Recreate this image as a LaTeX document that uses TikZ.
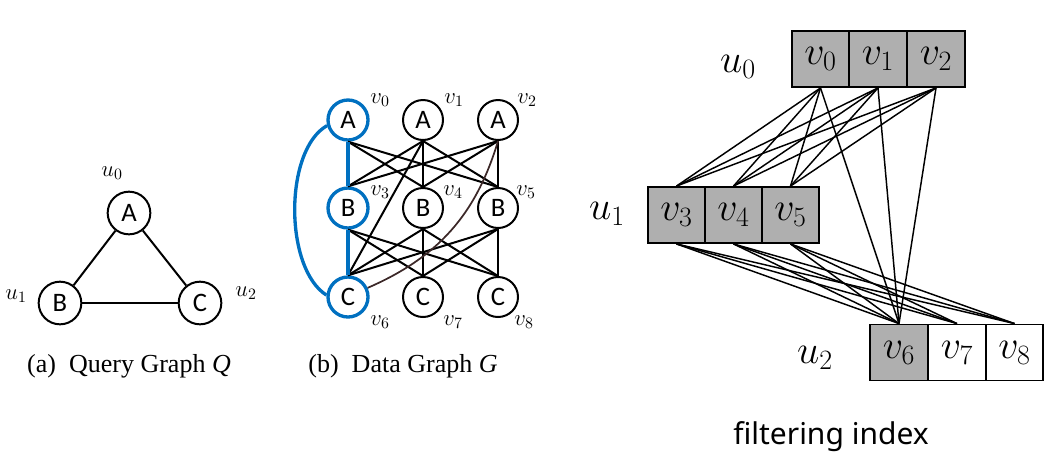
\RequirePackage{fix-cm}
\documentclass[tikz,border=0pt]{standalone}
\usepackage{fontspec}
\newfontfamily\nodefont{Carlito}
\newfontfamily\idxfont{Noto Sans}
\newfontfamily\capfont{Liberation Serif}
\definecolor{oblue}{RGB}{0,112,192}
\definecolor{cellgray}{RGB}{175,175,175}
\definecolor{darkcurve}{RGB}{60,40,40}
\begin{document}
\begin{tikzpicture}[x=0.75pt,y=-0.75pt,
  qnode/.style={circle,draw,line width=1.5pt,minimum size=32pt,inner sep=0pt,font=\nodefont\fontsize{20}{22}\selectfont},
  dnode/.style={circle,draw,line width=1.5pt,minimum size=30pt,inner sep=0pt,font=\nodefont\fontsize{20}{22}\selectfont},
  bnode/.style={dnode,draw=oblue,line width=2.5pt},
  qedge/.style={line width=1.5pt},
  dedge/.style={line width=1.5pt},
  bedge/.style={line width=2.5pt,draw=oblue},
  smalllab/.style={inner sep=0pt,font=\fontsize{17}{19}\selectfont},
  biglab/.style={inner sep=0pt,font=\fontsize{30}{32}\selectfont},
  cell/.style={draw,line width=1.4pt,minimum width=43pt,minimum height=42pt,inner sep=0pt,font=\fontsize{30}{32}\selectfont},
  gcell/.style={cell,fill=cellgray},
  wcell/.style={cell,fill=white},
  fedge/.style={line width=1.1pt},
  caption/.style={inner sep=0pt,font=\capfont\fontsize{19.5}{22}\selectfont}
]
\useasboundingbox (0,0) rectangle (1056,465);

% ---------- Query graph ----------
\node[qnode] (qa) at (129,213) {A};
\node[qnode] (qb) at (60,303) {B};
\node[qnode] (qc) at (200,303) {C};
\draw[qedge] (qa) -- (qb);
\draw[qedge] (qa) -- (qc);
\draw[qedge] (qb) -- (qc);
\node[smalllab] (lu0) at (112,173) {$u_0$};
\node[smalllab] (lu1) at (16,296) {$u_1$};
\node[smalllab] (lu2) at (246,293) {$u_2$};
\node[caption] (capa) at (129,366) {(a)\enspace Query Graph \textit{Q}};

% ---------- Data graph ----------
\node[bnode] (v0) at (348,120) {A};
\node[dnode] (v1) at (423,120) {A};
\node[dnode] (v2) at (498,120) {A};
\node[bnode] (v3) at (348,208) {B};
\node[dnode] (v4) at (423,208) {B};
\node[dnode] (v5) at (498,208) {B};
\node[bnode] (v6) at (348,297) {C};
\node[dnode] (v7) at (423,297) {C};
\node[dnode] (v8) at (498,297) {C};

\foreach \a/\b in {v0/v4,v0/v5,v1/v3,v1/v4,v1/v5,v2/v3,v2/v4,v2/v5,
                   v3/v7,v3/v8,v4/v6,v4/v7,v4/v8,v5/v6,v5/v7,v5/v8,v1/v6}
  \draw[dedge] (\a.south) -- (\b.north);
\draw[dedge,darkcurve,line width=1.3pt] (v2.south) to[bend left=25] (v6.25);
\draw[bedge] (v0.south) -- (v3.north);
\draw[bedge] (v3.south) -- (v6.north);
\draw[bedge] (v0.195) .. controls (284,150) and (284,268) .. (v6.175);

\node[smalllab] (lv0) at (380,100) {$v_0$};
\node[smalllab] (lv1) at (454,100) {$v_1$};
\node[smalllab] (lv2) at (527,100) {$v_2$};
\node[smalllab] (lv3) at (380,192) {$v_3$};
\node[smalllab] (lv4) at (453,192) {$v_4$};
\node[smalllab] (lv5) at (526,192) {$v_5$};
\node[smalllab] (lv6) at (380,322) {$v_6$};
\node[smalllab] (lv7) at (453,322) {$v_7$};
\node[smalllab] (lv8) at (524,322) {$v_8$};
\node[caption] (capb) at (403,366) {(b)\enspace Data Graph \textit{G}};

% ---------- Filtering index ----------
\node[gcell] (c0) at (820.5,59) {$v_0$};
\node[gcell] (c1) at (878,59) {$v_1$};
\node[gcell] (c2) at (936,59) {$v_2$};
\node[gcell] (c3) at (676.5,215) {$v_3$};
\node[gcell] (c4) at (733.5,215) {$v_4$};
\node[gcell] (c5) at (790.5,215) {$v_5$};
\node[gcell] (c6) at (899,352.5) {$v_6$};
\node[wcell] (c7) at (957,352.5) {$v_7$};
\node[wcell] (c8) at (1014.5,352.5) {$v_8$};

\foreach \a in {c0,c1,c2}{
  \foreach \b in {c3,c4,c5}
    \draw[fedge] (\a.south) -- (\b.north);
  \draw[fedge] (\a.south) -- (c6.north);
}
\foreach \a in {c3,c4,c5}
  \foreach \b in {c6,c7,c8}
    \draw[fedge] (\a.south) -- (\b.north);

\node[biglab] (fu0) at (738,67) {$u_0$};
\node[biglab] (fu1) at (607,214) {$u_1$};
\node[biglab] (fu2) at (815,358) {$u_2$};
\node[inner sep=0pt,font=\idxfont\fontsize{22.5}{26}\selectfont] (fi) at (831,437) {filtering index};
\end{tikzpicture}
\end{document}
